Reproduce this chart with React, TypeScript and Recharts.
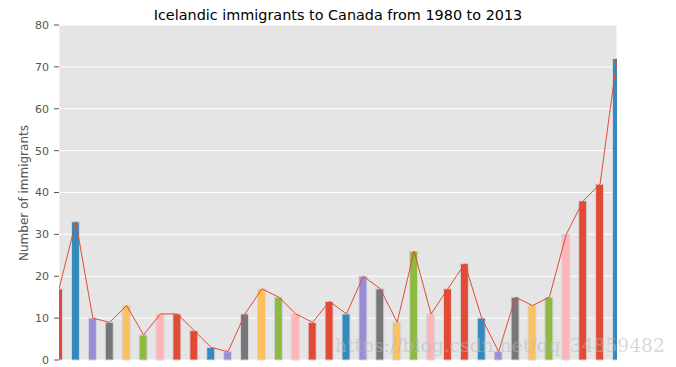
import React from 'react'
import { ComposedChart, Bar, Line, Cell, XAxis, YAxis, CartesianGrid } from 'recharts'

const years = [
  1980, 1981, 1982, 1983, 1984, 1985, 1986, 1987, 1988, 1989, 1990, 1991, 1992, 1993, 1994, 1995, 1996,
  1997, 1998, 1999, 2000, 2001, 2002, 2003, 2004, 2005, 2006, 2007, 2008, 2009, 2010, 2011, 2012, 2013,
]
const immigrants = [
  17, 33, 10, 9, 13, 6, 11, 11, 7, 3, 2, 11, 17, 15, 11, 9, 14,
  11, 20, 17, 9, 26, 11, 17, 23, 10, 2, 15, 13, 15, 30, 38, 42, 72,
]
const yTicks = [0, 10, 20, 30, 40, 50, 60, 70, 80]

// colour cycle as it shows up in the picture (repeats every 8 bars)
const barColors = ['#E24A33', '#348ABD', '#988ED5', '#777777', '#FBC15E', '#8EBA42', '#FFB5B8', '#E24A33']

const data = years.map((year, i) => ({ year, value: immigrants[i] }))

const font = 'DejaVu Sans, sans-serif'
const tickStyle = { fill: '#555555', fontSize: 11, fontFamily: font }

export default function App() {
  return (
    <div style={{ position: 'absolute', left: 0, top: 0, width: 676, height: 367, background: '#fff' }}>
      <ComposedChart width={676} height={367} data={data} margin={{ top: 0, right: 0, bottom: 0, left: 0 }}>
        <CartesianGrid xAxisId="x" yAxisId="y" fill="#E5E5E5" stroke="#ffffff" strokeWidth={1} />
        <XAxis
          xAxisId="x"
          type="number"
          dataKey="year"
          domain={[1980, 2013]}
          ticks={years}
          interval={0}
          tick={false}
          tickLine={{ stroke: '#555555' }}
          tickSize={4}
          axisLine={false}
          height={7}
          allowDataOverflow
        />
        <XAxis
          xAxisId="top"
          orientation="top"
          type="number"
          dataKey="year"
          domain={[1980, 2013]}
          ticks={years}
          interval={0}
          tick={false}
          tickLine={{ stroke: '#555555' }}
          tickSize={4}
          axisLine={false}
          height={25}
          allowDataOverflow
        />
        <YAxis
          yAxisId="y"
          type="number"
          domain={[0, 80]}
          ticks={yTicks}
          interval={0}
          tick={tickStyle}
          tickLine={{ stroke: '#555555' }}
          tickSize={5}
          tickMargin={5}
          axisLine={false}
          width={59}
        />
        <YAxis
          yAxisId="right"
          orientation="right"
          type="number"
          domain={[0, 80]}
          ticks={yTicks}
          interval={0}
          tick={false}
          tickLine={{ stroke: '#555555' }}
          tickSize={4}
          axisLine={false}
          width={59}
        />
        <Bar xAxisId="x" yAxisId="y" dataKey="value" barSize={8} stroke="#d6d6e2" strokeWidth={1} isAnimationActive={false}>
          {data.map((d, i) => (
            <Cell key={d.year} fill={barColors[i % barColors.length]} />
          ))}
        </Bar>
        <Line
          xAxisId="x"
          yAxisId="y"
          type="linear"
          dataKey="value"
          stroke="#E24A33"
          strokeWidth={1}
          dot={false}
          activeDot={false}
          isAnimationActive={false}
        />
      </ComposedChart>
      <div
        style={{
          position: 'absolute',
          left: 0,
          top: 7,
          width: 676,
          textAlign: 'center',
          fontFamily: font,
          fontSize: 14.4,
          lineHeight: '16px',
          color: '#000',
        }}
      >
        Icelandic immigrants to Canada from 1980 to 2013
      </div>
      <div
        style={{
          position: 'absolute',
          left: 24,
          top: 193,
          transform: 'translate(-50%, -50%) rotate(-90deg)',
          whiteSpace: 'nowrap',
          fontFamily: font,
          fontSize: 12,
          lineHeight: '14px',
          color: '#555555',
        }}
      >
        Number of immigrants
      </div>
      <div
        style={{
          position: 'absolute',
          left: 335,
          top: 335,
          fontFamily: 'DejaVu Serif, serif',
          fontSize: 18.7,
          lineHeight: '22px',
          color: 'rgba(185,185,185,0.55)',
          whiteSpace: 'nowrap',
        }}
      >
        https://blog.csdn.net/qq_34859482
      </div>
    </div>
  )
}
